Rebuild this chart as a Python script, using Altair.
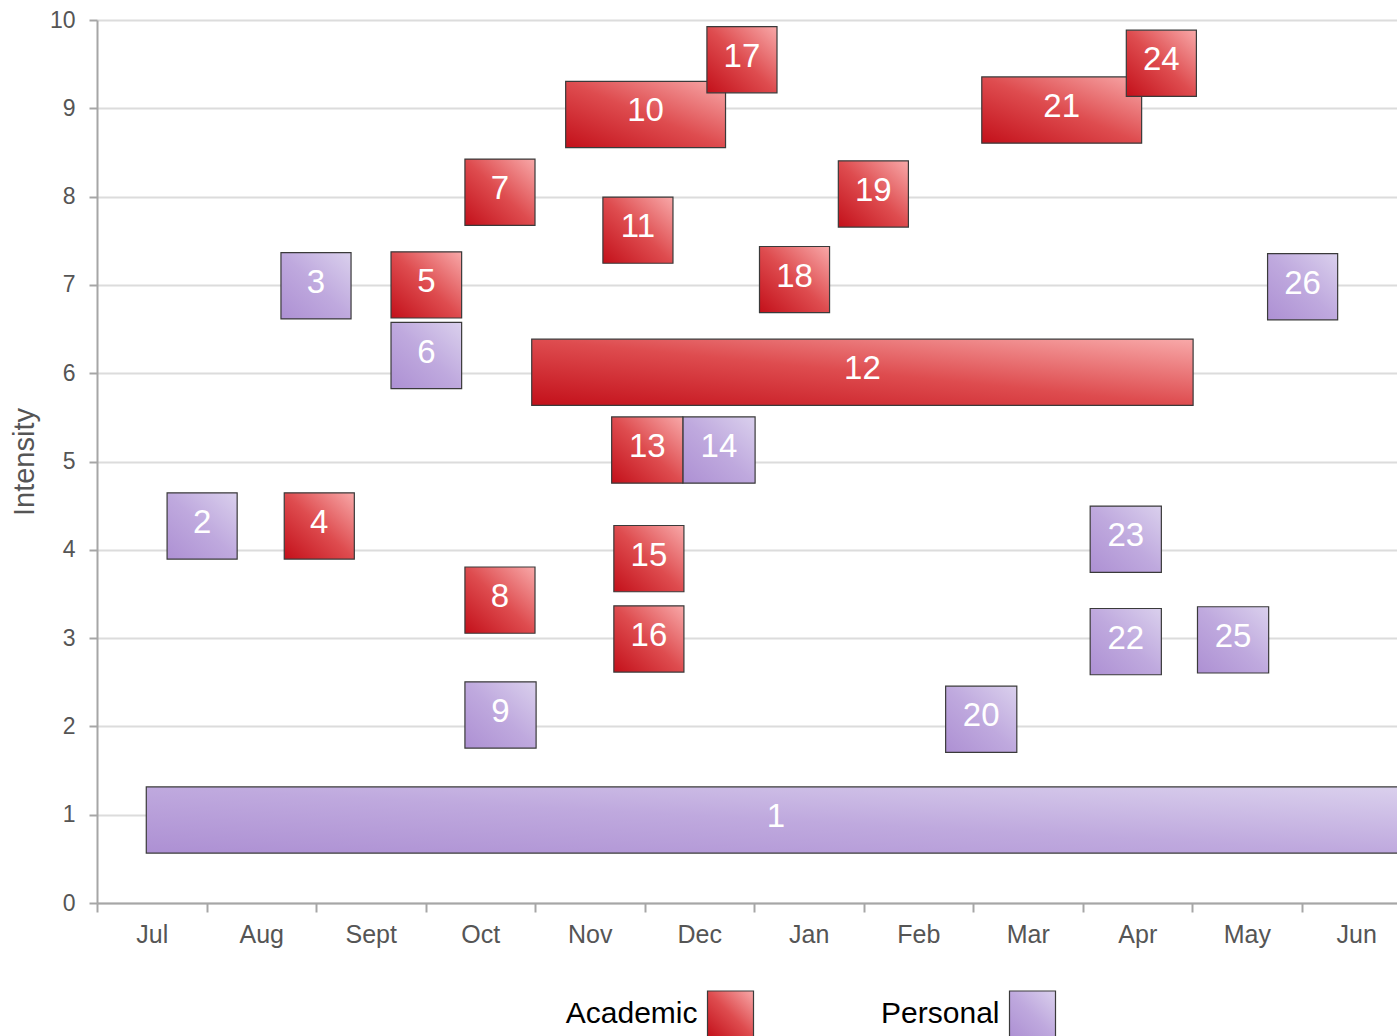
import altair as alt
import pandas as pd

# ---- data ----
labels = [str(i) for i in range(1, 27)]
categories = ["Personal", "Personal", "Personal", "Academic", "Academic", "Personal",
              "Academic", "Academic", "Personal", "Academic", "Academic", "Academic",
              "Academic", "Personal", "Academic", "Academic", "Academic", "Academic",
              "Academic", "Personal", "Academic", "Personal", "Personal", "Academic",
              "Personal", "Personal"]
starts = [0.45, 0.64, 1.68, 1.71, 2.685, 2.685, 3.36, 3.36, 3.36, 4.28, 4.62, 3.97, 4.70,
          5.35, 4.72, 4.72, 5.57, 6.05, 6.77, 7.75, 8.08, 9.07, 9.07, 9.40, 10.05, 10.69]
ends = [11.95, 1.28, 2.32, 2.35, 3.33, 3.33, 4.00, 4.00, 4.01, 5.74, 5.26, 10.01, 5.35,
        6.01, 5.36, 5.36, 6.21, 6.69, 7.41, 8.40, 9.54, 9.72, 9.72, 10.04, 10.70, 11.33]
intensity = [0.94, 4.27, 6.99, 4.27, 7.00, 6.20, 8.05, 3.43, 2.13, 8.93, 7.62, 6.01, 5.13,
             5.13, 3.90, 2.99, 9.55, 7.06, 8.03, 2.08, 8.98, 2.96, 4.12, 9.51, 2.98, 6.98]
months = ["Jul", "Aug", "Sept", "Oct", "Nov", "Dec", "Jan", "Feb", "Mar", "Apr", "May", "Jun"]
legend_cats = ["Academic", "Personal"]

BOX_HALF = 0.375
FONT = "Liberation Sans"

df = pd.DataFrame({"label": labels, "cat": categories, "start": starts,
                   "end": ends, "val": intensity})
df["order"] = range(len(df))

red_grad = {"gradient": "linear", "x1": 0, "y1": 1, "x2": 1, "y2": 0,
            "stops": [{"offset": 0, "color": "#c3101a"},
                      {"offset": 0.5, "color": "#de4c4f"},
                      {"offset": 1, "color": "#f8a9a9"}]}
purple_grad = {"gradient": "linear", "x1": 0, "y1": 1, "x2": 1, "y2": 0,
               "stops": [{"offset": 0, "color": "#ad90d3"},
                         {"offset": 0.5, "color": "#bfa9de"},
                         {"offset": 1, "color": "#dad0ed"}]}

xscale = alt.Scale(domain=[0, 11.872], nice=False, zero=False)
yscale = alt.Scale(domain=[0, 10], nice=False)

month_expr = "[" + ",".join("'" + m + "'" for m in months) + "][datum.value]"

base = alt.Chart(df).transform_calculate(
    y1=f"datum.val - {BOX_HALF}", y2=f"datum.val + {BOX_HALF}",
    mid="(datum.start + datum.end) / 2"
)

x_axis = alt.Axis(values=list(range(12)), labelExpr=month_expr, labelOffset=54.75,
                  grid=False, title=None, labelFontSize=25, labelColor="#555555",
                  labelFont=FONT, tickColor="#a6a6a6", tickSize=9, tickWidth=2,
                  domainColor="#a6a6a6", domainWidth=2, labelPadding=10,
                  labelOverlap=False, labelFlush=False, labelBound=False)
y_axis = alt.Axis(values=list(range(11)), format="d", grid=True, gridColor="#dcdcdc",
                  gridWidth=2, title="Intensity", titleFontSize=29, titleFont=FONT,
                  titleFontWeight="normal", titleColor="#555555", titlePadding=10,
                  labelFontSize=23, labelFont=FONT, labelColor="#555555",
                  tickColor="#a6a6a6", tickSize=8, tickWidth=2, domainColor="#a6a6a6",
                  domainWidth=2, labelPadding=14)

academic = base.transform_filter("datum.cat == 'Academic'").mark_rect(
    fill=red_grad, stroke="#3a3a3a", strokeWidth=1.2, clip=True
).encode(
    x=alt.X("start:Q", scale=xscale, axis=x_axis),
    x2="end:Q",
    y=alt.Y("y1:Q", scale=yscale, axis=y_axis),
    y2="y2:Q",
    order="order:Q",
)
personal = base.transform_filter("datum.cat == 'Personal'").mark_rect(
    fill=purple_grad, stroke="#3a3a3a", strokeWidth=1.2, clip=True
).encode(
    x=alt.X("start:Q", scale=xscale),
    x2="end:Q",
    y=alt.Y("y1:Q", scale=yscale),
    y2="y2:Q",
    order="order:Q",
)
text = base.mark_text(color="white", fontSize=33, font=FONT, dy=-3,
                      align="center", baseline="middle").encode(
    x=alt.X("mid:Q", scale=xscale),
    y=alt.Y("val:Q", scale=yscale),
    text="label:N",
)

main = alt.layer(personal, academic, text).properties(width=1300, height=883)

leg_df = pd.DataFrame({"cat": legend_cats})
leg_x = alt.X("cat:N", scale=alt.Scale(type="point", domain=legend_cats, padding=0,
                                       range=[633.5, 935.5]), axis=None)
leg_sw_a = alt.Chart(leg_df).transform_filter("datum.cat == 'Academic'").mark_square(
    size=46 * 46, fill=red_grad, stroke="#3a3a3a", strokeWidth=1.2, opacity=1
).encode(x=leg_x)
leg_sw_p = alt.Chart(leg_df).transform_filter("datum.cat == 'Personal'").mark_square(
    size=46 * 46, fill=purple_grad, stroke="#3a3a3a", strokeWidth=1.2, opacity=1
).encode(x=leg_x)
leg_txt = alt.Chart(leg_df).mark_text(align="right", baseline="middle", dx=-33,
                                      fontSize=30, font=FONT, color="black").encode(
    x=leg_x, text="cat:N")
legend = alt.layer(leg_sw_a, leg_sw_p, leg_txt).properties(width=1300, height=46)

chart = alt.vconcat(main, legend, spacing=41).properties(
    padding={"left": 10, "top": 9, "right": 0, "bottom": 0}
).configure(font=FONT).configure_view(stroke=None)

chart.save("out.html", embed_options={"renderer": "svg", "actions": False})
